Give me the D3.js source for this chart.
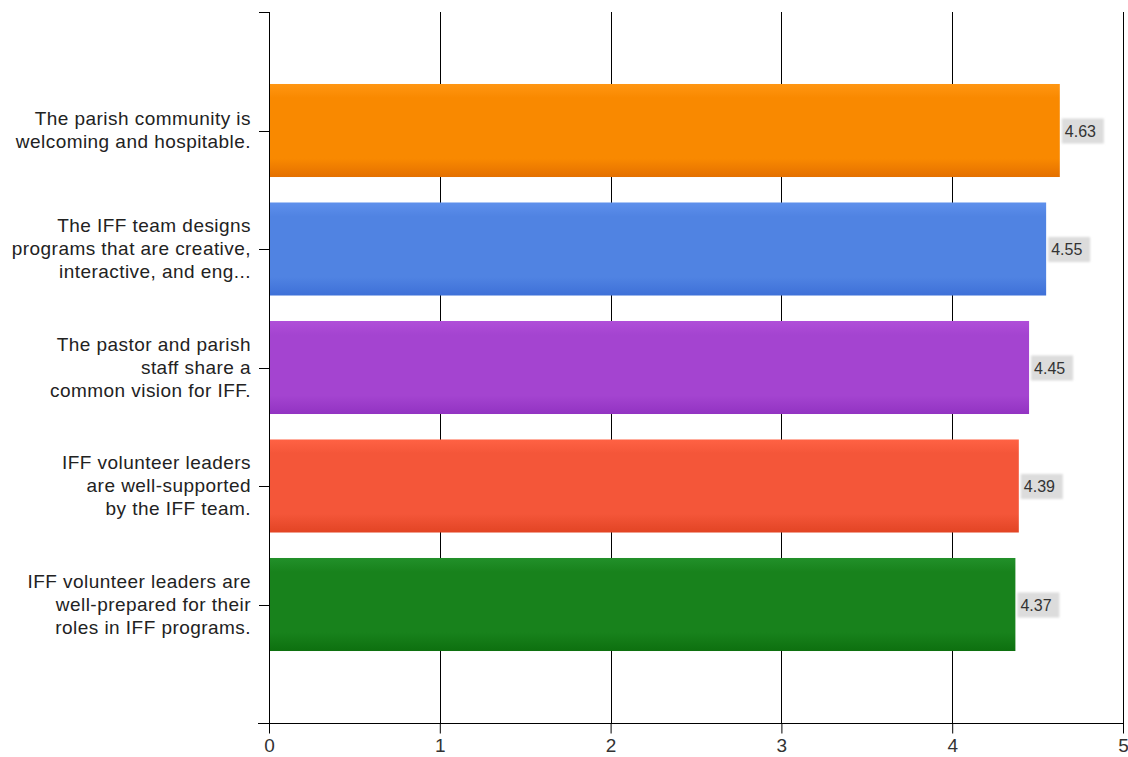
<!DOCTYPE html>
<html>
<head>
<meta charset="utf-8">
<script src="https://cdn.jsdelivr.net/npm/d3@7"></script>
<style>
  html, body { margin: 0; padding: 0; background: #fff; }
  svg { display: block; }
  text { font-family: "Liberation Sans", Arial, sans-serif; }
</style>
</head>
<body>
<svg id="chart" width="1128" height="757"></svg>
<script>
// Survey statements (wrapped as drawn) and their mean ratings
const categoryLines = [
  ["The parish community is", "welcoming and hospitable."],
  ["The IFF team designs", "programs that are creative,", "interactive, and eng..."],
  ["The pastor and parish", "staff share a", "common vision for IFF."],
  ["IFF volunteer leaders", "are well-supported", "by the IFF team."],
  ["IFF volunteer leaders are", "well-prepared for their", "roles in IFF programs."]
];
const values = [4.63, 4.55, 4.45, 4.39, 4.37];
const xTicks = [0, 1, 2, 3, 4, 5];
const barColors = [
  { top: "#ff9612", mid: "#f98900", bottom: "#e47000" },
  { top: "#5e90ec", mid: "#5083e2", bottom: "#3e70d8" },
  { top: "#b04ed9", mid: "#a444d0", bottom: "#9233c2" },
  { top: "#ff6244", mid: "#f45639", bottom: "#e24424" },
  { top: "#22902a", mid: "#18821c", bottom: "#0d700f" }
];

const svg = d3.select("#chart");
const plotLeft = 269, plotRight = 1123, plotTop = 12, plotBottom = 723;

const x = d3.scaleLinear().domain([0, 5]).range([plotLeft, plotRight]);
const keys = d3.range(values.length);
const y = d3.scalePoint().domain(keys).range([plotTop, plotBottom]).padding(1);
const barH = y.step() * 0.785;

// Gradients for the bars
const defs = svg.append("defs");
barColors.forEach((c, i) => {
  const g = defs.append("linearGradient")
    .attr("id", "grad" + i).attr("x1", 0).attr("y1", 0).attr("x2", 0).attr("y2", 1);
  g.append("stop").attr("offset", "0%").attr("stop-color", c.top);
  g.append("stop").attr("offset", "15%").attr("stop-color", c.mid);
  g.append("stop").attr("offset", "80%").attr("stop-color", c.mid);
  g.append("stop").attr("offset", "100%").attr("stop-color", c.bottom);
});
defs.append("filter").attr("id", "soft")
  .attr("x", "-20%").attr("y", "-30%").attr("width", "140%").attr("height", "160%")
  .append("feGaussianBlur").attr("stdDeviation", 1.2);

// Vertical grid lines (values 1..5)
svg.append("g").selectAll("line")
  .data(xTicks.filter(t => t > 0))
  .join("line")
  .attr("x1", d => Math.round(x(d)) + 0.5).attr("x2", d => Math.round(x(d)) + 0.5)
  .attr("y1", plotTop).attr("y2", plotBottom)
  .attr("stroke", "#000").attr("stroke-width", 1);

// Bars
svg.append("g").selectAll("rect")
  .data(values)
  .join("rect")
  .attr("x", x(0) + 1)
  .attr("y", (d, i) => y(i) - barH / 2)
  .attr("width", d => x(d) - x(0) - 1)
  .attr("height", barH)
  .attr("fill", (d, i) => `url(#grad${i})`);

// Value labels with a grey backing box
const lbl = svg.append("g").selectAll("g")
  .data(values)
  .join("g")
  .attr("transform", (d, i) => `translate(${x(d) + 2},${y(i)})`);
lbl.append("rect")
  .attr("x", 0).attr("y", -12).attr("width", 42).attr("height", 25)
  .attr("fill", "#dcdcdc").attr("filter", "url(#soft)");
lbl.append("text")
  .attr("x", 3).attr("y", 6)
  .attr("font-size", 16).attr("fill", "#333")
  .text(d => d.toFixed(2));

// Y axis with category ticks and end ticks
const yAxisG = svg.append("g");
yAxisG.append("line")
  .attr("x1", plotLeft + 0.5).attr("x2", plotLeft + 0.5).attr("y1", plotTop).attr("y2", plotBottom)
  .attr("stroke", "#000");
const yTickPos = [plotTop, ...keys.map(k => y(k))];
yAxisG.selectAll("line.tk").data(yTickPos).join("line").attr("class", "tk")
  .attr("x1", plotLeft - 10).attr("x2", plotLeft)
  .attr("y1", d => Math.round(d) + 0.5).attr("y2", d => Math.round(d) + 0.5)
  .attr("stroke", "#000");

// Category labels, right aligned and vertically centred on their tick
const labelG = yAxisG.append("g");
const lineH = 23;
categoryLines.forEach((lines, i) => {
  const t = labelG.append("text")
    .attr("text-anchor", "end")
    .attr("font-size", 19)
    .attr("letter-spacing", 0.45)
    .attr("fill", "#222");
  const y0 = y(i) - (lines.length - 1) * lineH / 2 + 6;
  lines.forEach((ln, j) => {
    t.append("tspan").attr("x", 251).attr("y", y0 + j * lineH).text(ln);
  });
});

// X axis
const xAxis = d3.axisBottom(x).tickValues(xTicks).tickFormat(d3.format("d"))
  .tickSize(10).tickPadding(5).tickSizeOuter(0);
const xG = svg.append("g").attr("transform", `translate(0,${plotBottom + 0.5})`).call(xAxis);
xG.select(".domain").remove();
xG.append("line").attr("x1", plotLeft - 11).attr("x2", plotRight + 1).attr("y1", 0).attr("y2", 0).attr("stroke", "#000");
xG.selectAll(".tick line").attr("stroke", "#000");
xG.selectAll(".tick text")
  .attr("font-size", 19).attr("fill", "#333")
  .attr("font-family", "'Liberation Sans', Arial, sans-serif");
</script>
</body>
</html>
